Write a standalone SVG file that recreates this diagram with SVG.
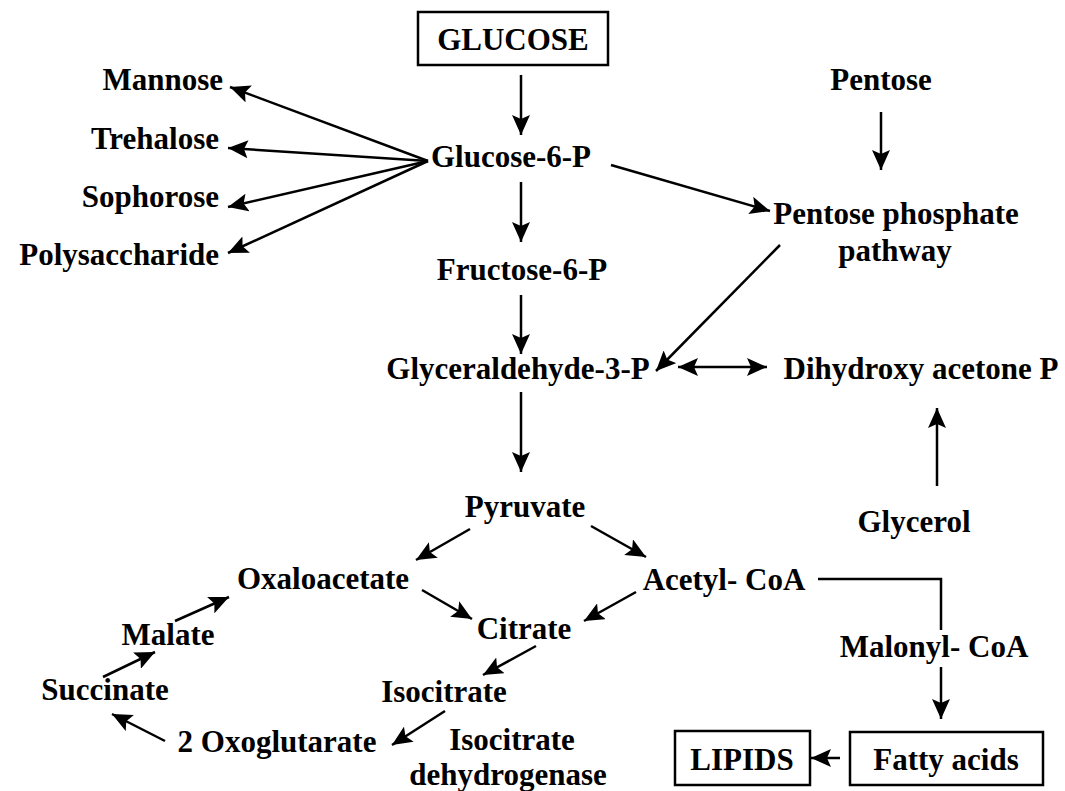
<svg xmlns="http://www.w3.org/2000/svg" width="1065" height="791" viewBox="0 0 1065 791">
<defs>
<marker id="ah" markerUnits="userSpaceOnUse" markerWidth="22" markerHeight="18" refX="20" refY="9" orient="auto-start-reverse">
<path d="M0,0 L20,9 L0,18 L4,9 Z" fill="#000"/>
</marker>
</defs>
<style>
text{font-family:"Liberation Serif","Times New Roman",serif;font-weight:bold;font-size:31px;fill:#000}
.m{text-anchor:middle}
.e{text-anchor:end}
.box{fill:#fff;stroke:#000;stroke-width:2.5}
.c line,.c path{stroke:#000;stroke-width:2.5;fill:none}
.a{marker-end:url(#ah)}
</style>
<rect width="1065" height="791" fill="#fff"/>
<g class="c" id="connectors">
<line class="a" x1="521" y1="75" x2="521" y2="135"/>
<line class="a" x1="428" y1="161" x2="230" y2="87"/>
<line class="a" x1="428" y1="161" x2="228" y2="148"/>
<line class="a" x1="428" y1="161" x2="228" y2="207"/>
<line class="a" x1="428" y1="161" x2="228" y2="253"/>
<line class="a" x1="611" y1="165" x2="770" y2="211"/>
<line class="a" x1="881" y1="112" x2="881" y2="170"/>
<line class="a" x1="521" y1="182" x2="521" y2="242"/>
<line class="a" x1="780" y1="245" x2="656" y2="371"/>
<line class="a" x1="521" y1="295" x2="521" y2="354"/>
<line class="a" style="marker-start:url(#ah)" x1="678" y1="367" x2="767" y2="367"/>
<line class="a" x1="521" y1="392" x2="521" y2="472"/>
<line class="a" x1="937" y1="486" x2="937" y2="408"/>
<line class="a" x1="470" y1="529" x2="416" y2="560"/>
<line class="a" x1="591" y1="526" x2="646" y2="557"/>
<line class="a" x1="422" y1="590" x2="472" y2="619"/>
<line class="a" x1="636" y1="592" x2="584" y2="621"/>
<line class="a" x1="536" y1="646" x2="483" y2="675"/>
<line class="a" x1="445" y1="711" x2="392" y2="745"/>
<line class="a" x1="165" y1="741" x2="112" y2="714"/>
<line class="a" x1="103" y1="677" x2="155" y2="652"/>
<line class="a" x1="175" y1="621" x2="229" y2="597"/>
<path d="M818,579 H941 V630"/>
<line class="a" x1="941" y1="667" x2="941" y2="719"/>
<line class="a" x1="840" y1="758" x2="811" y2="758"/>
</g>
<g id="glucose"><rect class="box" x="418" y="12" width="190" height="53"/><text class="m" x="513" y="50">GLUCOSE</text></g>
<g id="glucose6p"><text class="m" x="511" y="167">Glucose-6-P</text></g>
<g id="mannose"><text class="e" x="223" y="90">Mannose</text></g>
<g id="trehalose"><text class="e" x="219" y="149">Trehalose</text></g>
<g id="sophorose"><text class="e" x="219" y="207">Sophorose</text></g>
<g id="polysaccharide"><text class="e" x="219" y="265">Polysaccharide</text></g>
<g id="pentose"><text class="m" x="881" y="90">Pentose</text></g>
<g id="ppp"><text class="m" x="896" y="224">Pentose phosphate</text><text class="m" x="895" y="261">pathway</text></g>
<g id="fructose6p"><text class="m" x="522" y="280">Fructose-6-P</text></g>
<g id="g3p"><text class="m" x="518" y="379">Glyceraldehyde-3-P</text></g>
<g id="dhap"><text class="m" x="921" y="379">Dihydroxy acetone P</text></g>
<g id="pyruvate"><text class="m" x="525" y="517">Pyruvate</text></g>
<g id="glycerol"><text class="m" x="914" y="532">Glycerol</text></g>
<g id="oxaloacetate"><text class="m" x="323" y="589">Oxaloacetate</text></g>
<g id="acetylcoa"><text class="m" x="724" y="590">Acetyl- CoA</text></g>
<g id="citrate"><text class="m" x="524" y="639">Citrate</text></g>
<g id="isocitrate"><text class="m" x="444" y="702">Isocitrate</text></g>
<g id="malonylcoa"><text class="m" x="934" y="657">Malonyl- CoA</text></g>
<g id="malate"><text class="m" x="168" y="645">Malate</text></g>
<g id="succinate"><text class="m" x="105" y="700">Succinate</text></g>
<g id="oxoglutarate"><text class="m" x="277" y="752">2 Oxoglutarate</text></g>
<g id="icdh"><text class="m" x="512" y="750">Isocitrate</text><text class="m" x="508" y="785">dehydrogenase</text></g>
<g id="lipids"><rect class="box" x="675" y="731" width="135" height="54"/><text class="m" x="742" y="770">LIPIDS</text></g>
<g id="fattyacids"><rect class="box" x="850" y="732" width="193" height="53"/><text class="m" x="946" y="770">Fatty acids</text></g>
</svg>
